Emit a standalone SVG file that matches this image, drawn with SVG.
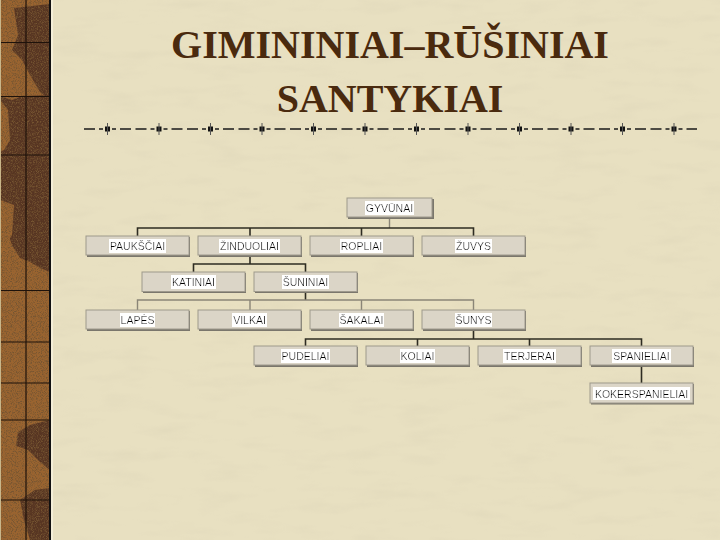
<svg xmlns="http://www.w3.org/2000/svg" width="720" height="540" viewBox="0 0 720 540">
<defs>
<style>
.title{font-family:"Liberation Serif","Times New Roman",serif;font-weight:bold;font-size:40px;fill:#4a2a0e;text-anchor:middle}
.box{fill:#dbd5c7;stroke:#9e998c;stroke-width:1}
.shadow{fill:#7a766c}
.lbl{font-family:"Liberation Sans",Arial,sans-serif;font-size:10.5px;fill:#000;text-anchor:middle}
.dk{stroke:#2e2c22;stroke-width:1.6;fill:none}
.lt{stroke:#8a8577;stroke-width:1.4;fill:none}
</style>
<filter id="hl" x="-0.01" y="-0.04" width="1.02" height="1.08">
<feFlood flood-color="#ffffff"/>
<feMerge><feMergeNode/><feMergeNode in="SourceGraphic"/></feMerge>
</filter>
<filter id="grain" x="0" y="0" width="1" height="1">
<feTurbulence type="fractalNoise" baseFrequency="1.2" numOctaves="1" seed="3"/>
<feColorMatrix type="matrix" values="0 0 0 0 0.18  0 0 0 0 0.09  0 0 0 0 0.03  3.5 0 0 0 -1.55"/>
<feComposite in2="SourceGraphic" operator="in"/>
</filter>
<filter id="bgtex" x="0" y="0" width="1" height="1">
<feTurbulence type="fractalNoise" baseFrequency="0.02 0.08" numOctaves="3" seed="7"/>
<feColorMatrix type="matrix" values="0 0 0 0 0.6  0 0 0 0 0.55  0 0 0 0 0.4  0 0 0 -2.5 1.3"/>
<feComposite in2="SourceGraphic" operator="in"/>
</filter>
</defs>

<!-- background -->
<rect x="0" y="0" width="720" height="540" fill="#e8e0c1"/>
<rect x="0" y="0" width="720" height="540" fill="#000" filter="url(#bgtex)" opacity="0.15"/>

<!-- left decorative strip -->
<g id="strip">
<rect x="0" y="0" width="50" height="540" fill="#9a6430"/>
<path d="M14,8 L50,4 L50,100 L40,92 L30,75 L22,60 L12,50 L18,35 Z" fill="#573522"/>
<path d="M0,96 L12,100 L22,96 L50,95 L50,272 L40,268 L30,262 L20,258 L12,245 L5,225 L0,215 Z" fill="#573522"/>
<path d="M0,100 L8,110 L10,140 L4,150 L0,152 Z" fill="#9a6430"/>
<path d="M0,200 L14,205 L12,235 L6,245 L0,240 Z" fill="#9a6430"/>
<path d="M18,432 L30,425 L50,420 L50,470 L40,462 L28,450 L16,446 Z" fill="#573522"/>
<path d="M20,500 L35,490 L50,488 L50,540 L30,540 L24,520 Z" fill="#573522"/>
<rect x="0" y="0" width="50" height="540" fill="#000" filter="url(#grain)"/>
<g stroke="#1e120a" stroke-width="1.2">
<line x1="26" y1="0" x2="26" y2="540"/>
<line x1="0" y1="42.5" x2="50" y2="42.5"/>
<line x1="0" y1="96.5" x2="50" y2="96.5"/>
<line x1="0" y1="155" x2="50" y2="155"/>
<line x1="0" y1="290.5" x2="50" y2="290.5"/>
<line x1="0" y1="342" x2="50" y2="342"/>
<line x1="0" y1="383" x2="50" y2="383"/>
<line x1="0" y1="420" x2="50" y2="420"/>
<line x1="0" y1="500" x2="50" y2="500"/>
</g>
<line x1="0.5" y1="0" x2="0.5" y2="540" stroke="#c9b68a" stroke-width="1"/>
<line x1="50" y1="0" x2="50" y2="540" stroke="#111" stroke-width="2"/>
<line x1="52" y1="0" x2="52" y2="540" stroke="#f4eed8" stroke-width="2"/>
</g>

<!-- title -->
<text class="title" x="390" y="58">GIMININIAI–RŪŠINIAI</text>
<text class="title" x="390" y="112">SANTYKIAI</text>

<!-- separator -->
<g id="separator">
<line x1="84" y1="129" x2="697" y2="129" stroke="#1a1a1a" stroke-width="1.6" stroke-dasharray="4 4 11 4.5 11 4 4 9" stroke-dashoffset="23.5"/>
<g fill="#111">
<rect x="105" y="126.5" width="5" height="5"/><rect x="156.5" y="126.5" width="5" height="5"/>
<rect x="208" y="126.5" width="5" height="5"/><rect x="259.5" y="126.5" width="5" height="5"/>
<rect x="311" y="126.5" width="5" height="5"/><rect x="362.5" y="126.5" width="5" height="5"/>
<rect x="414" y="126.5" width="5" height="5"/><rect x="465.5" y="126.5" width="5" height="5"/>
<rect x="517" y="126.5" width="5" height="5"/><rect x="568.5" y="126.5" width="5" height="5"/>
<rect x="620" y="126.5" width="5" height="5"/><rect x="671.5" y="126.5" width="5" height="5"/>
</g>
<g stroke="#555" stroke-width="1">
<path d="M107.5,123v12M159,123v12M210.5,123v12M262,123v12M313.5,123v12M365,123v12M416.5,123v12M468,123v12M519.5,123v12M571,123v12M622.5,123v12M674,123v12"/>
</g>
</g>

<!-- connectors -->
<g id="connectors">
<path class="lt" d="M389.5,217 V228"/>
<path class="dk" d="M137.5,236 V228 H473.5 V236 M250,228 V236 M361.5,228 V236"/>
<path class="dk" d="M250,255 V264 M193.5,272 V264 H305.5 V272"/>
<path class="dk" d="M305.5,292 V300"/>
<path class="lt" d="M137.5,310 V300 H473.5 V310 M250,300 V310 M361.5,300 V310"/>
<path class="dk" d="M473.5,329 V339 M305.5,346 V339 H641.5 V346 M417.5,339 V346 M529.5,339 V346"/>
<path class="dk" d="M641.5,365 V383"/>
</g>

<!-- nodes -->
<g id="n-gyvunai"><rect class="shadow" x="348" y="199" width="86" height="20"/><rect class="box" x="347" y="198" width="85" height="19"/><text class="lbl" x="389.5" y="212" filter="url(#hl)">GYVŪNAI</text></g>

<g id="n-paukščiai"><rect class="shadow" x="87" y="237" width="103" height="20"/><rect class="box" x="86" y="236" width="103" height="19"/><text class="lbl" x="137.5" y="250" filter="url(#hl)">PAUKŠČIAI</text></g>
<g id="n-žinduoliai"><rect class="shadow" x="199" y="237" width="103" height="20"/><rect class="box" x="198" y="236" width="103" height="19"/><text class="lbl" x="249.5" y="250" filter="url(#hl)">ŽINDUOLIAI</text></g>
<g id="n-ropliai"><rect class="shadow" x="311" y="237" width="103" height="20"/><rect class="box" x="310" y="236" width="103" height="19"/><text class="lbl" x="361.5" y="250" filter="url(#hl)">ROPLIAI</text></g>
<g id="n-žuvys"><rect class="shadow" x="423" y="237" width="103" height="20"/><rect class="box" x="422" y="236" width="103" height="19"/><text class="lbl" x="473.5" y="250" filter="url(#hl)">ŽUVYS</text></g>

<g id="n-katiniai"><rect class="shadow" x="143" y="273" width="103" height="20"/><rect class="box" x="142" y="272" width="103" height="19.5"/><text class="lbl" x="193.5" y="286" filter="url(#hl)">KATINIAI</text></g>
<g id="n-šuniniai"><rect class="shadow" x="255" y="273" width="103" height="20"/><rect class="box" x="254" y="272" width="103" height="19.5"/><text class="lbl" x="305.5" y="286" filter="url(#hl)">ŠUNINIAI</text></g>

<g id="n-lapės"><rect class="shadow" x="87" y="311" width="103" height="20"/><rect class="box" x="86" y="310" width="103" height="19"/><text class="lbl" x="137.5" y="324" filter="url(#hl)">LAPĖS</text></g>
<g id="n-vilkai"><rect class="shadow" x="199" y="311" width="103" height="20"/><rect class="box" x="198" y="310" width="103" height="19"/><text class="lbl" x="249.5" y="324" filter="url(#hl)">VILKAI</text></g>
<g id="n-šakalai"><rect class="shadow" x="311" y="311" width="103" height="20"/><rect class="box" x="310" y="310" width="103" height="19"/><text class="lbl" x="361.5" y="324" filter="url(#hl)">ŠAKALAI</text></g>
<g id="n-šunys"><rect class="shadow" x="423" y="311" width="103" height="20"/><rect class="box" x="422" y="310" width="103" height="19"/><text class="lbl" x="473.5" y="324" filter="url(#hl)">ŠUNYS</text></g>

<g id="n-pudeliai"><rect class="shadow" x="255" y="347" width="103" height="20"/><rect class="box" x="254" y="346" width="103" height="19"/><text class="lbl" x="305.5" y="360" filter="url(#hl)">PUDELIAI</text></g>
<g id="n-koliai"><rect class="shadow" x="367" y="347" width="103" height="20"/><rect class="box" x="366" y="346" width="103" height="19"/><text class="lbl" x="417.5" y="360" filter="url(#hl)">KOLIAI</text></g>
<g id="n-terjerai"><rect class="shadow" x="479" y="347" width="103" height="20"/><rect class="box" x="478" y="346" width="103" height="19"/><text class="lbl" x="529.5" y="360" filter="url(#hl)">TERJERAI</text></g>
<g id="n-spanieliai"><rect class="shadow" x="591" y="347" width="103" height="20"/><rect class="box" x="590" y="346" width="103" height="19"/><text class="lbl" x="641.5" y="360" filter="url(#hl)">SPANIELIAI</text></g>

<g id="n-kokerspanieliai"><rect class="shadow" x="591" y="384" width="103" height="20.5"/><rect class="box" x="590" y="383" width="103" height="20"/><text class="lbl" x="641.5" y="397.5" filter="url(#hl)">KOKERSPANIELIAI</text></g>
</svg>
